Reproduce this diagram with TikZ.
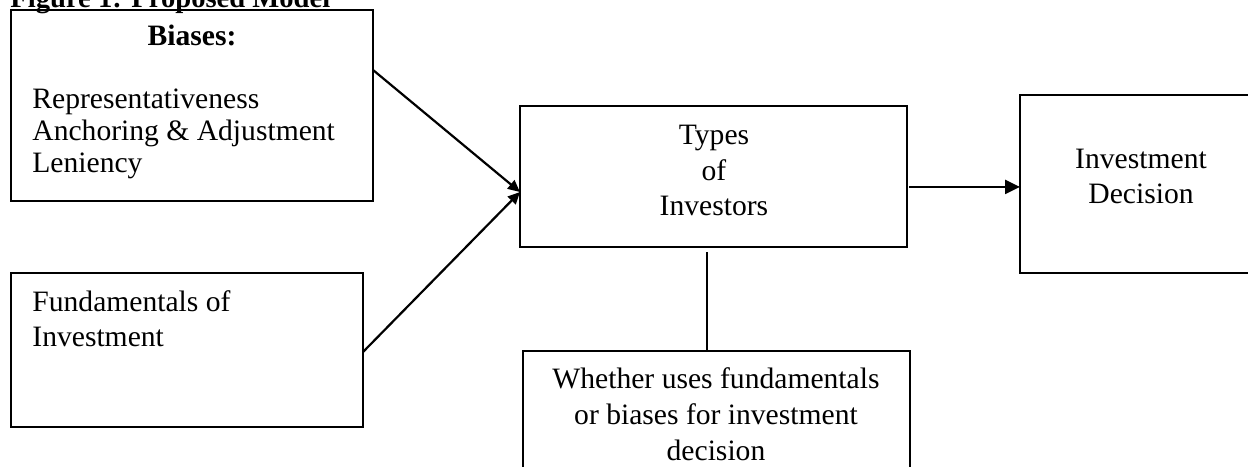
\documentclass[tikz,border=0pt]{standalone}
\usepackage{fontspec}
\setmainfont{Liberation Serif}
\usetikzlibrary{calc,arrows.meta,fit}
\begin{document}
\begin{tikzpicture}[x=0.5pt,y=-0.5pt,
  box/.style={draw,line width=1pt,inner sep=0pt,outer sep=0pt},
  txt/.style={inner sep=0pt,font=\fontsize{14.8}{17}\selectfont},
  conn/.style={line width=1.1pt},
  tipsmall/.style={conn,-{Triangle[length=6pt,width=5.5pt]}},
  tipbig/.style={conn,-{Triangle[length=7.5pt,width=7pt]}}]
\useasboundingbox (0,0) rectangle (1248,466);
\clip (0,0) rectangle (1248,466);
% boxes
\node[box,fit={(11,10) (373,201)}] (bias) {};
\node[box,fit={(11,273) (363,427)}] (fund) {};
\node[box,fit={(520,106) (907,247)}] (types) {};
\node[box,fit={(1020,95) (1262,273)}] (invest) {};
\node[box,fit={(523,351) (910,490)}] (uses) {};
% title
\node[txt,anchor=base west,font=\fontsize{14.3}{17}\selectfont\bfseries] (title) at (10,7) {Figure 1: Proposed Model};
\draw[line width=0.8pt] ($(title.base west)+(0,2.5)$) -- ($(title.base east)+(0,2.5)$);
% texts
\node[txt,anchor=base,font=\fontsize{14.8}{17}\selectfont\bfseries] (bt) at (192,46) {Biases:};
\node[txt,anchor=base west] (b1) at (32,108) {Representativeness};
\node[txt,anchor=base west] (b2) at (32,140) {Anchoring \& Adjustment};
\node[txt,anchor=base west] (b3) at (32,172) {Leniency};
\node[txt,anchor=base west] (f1) at (32,311) {Fundamentals of};
\node[txt,anchor=base west] (f2) at (32,346) {Investment};
\node[txt,anchor=base] (t1) at (714,144) {Types};
\node[txt,anchor=base] (t2) at (714,180) {of};
\node[txt,anchor=base] (t3) at (714,215) {Investors};
\node[txt,anchor=base] (i1) at (1141,168) {Investment};
\node[txt,anchor=base] (i2) at (1141,203) {Decision};
\node[txt,anchor=base] (u1) at (716,388) {Whether uses fundamentals};
\node[txt,anchor=base] (u2) at (716,424) {or biases for investment};
\node[txt,anchor=base] (u3) at (716,460) {decision};
% connectors
\coordinate (tin) at ($(types.north west)!0.61!(types.south west)$);
\draw[tipsmall] ($(bias.north east)!0.314!(bias.south east)$) -- (tin);
\draw[tipsmall] ($(fund.north east)!0.513!(fund.south east)$) -- (tin);
\draw[tipbig] ($(types.north east)!0.574!(types.south east)+(2,0)$) coordinate (r0) -- (r0 -| invest.west);
\draw[conn] ($(types.south west)!0.483!(types.south east)+(0,5)$) coordinate (v0) -- (v0 |- uses.north);
\end{tikzpicture}
\end{document}
